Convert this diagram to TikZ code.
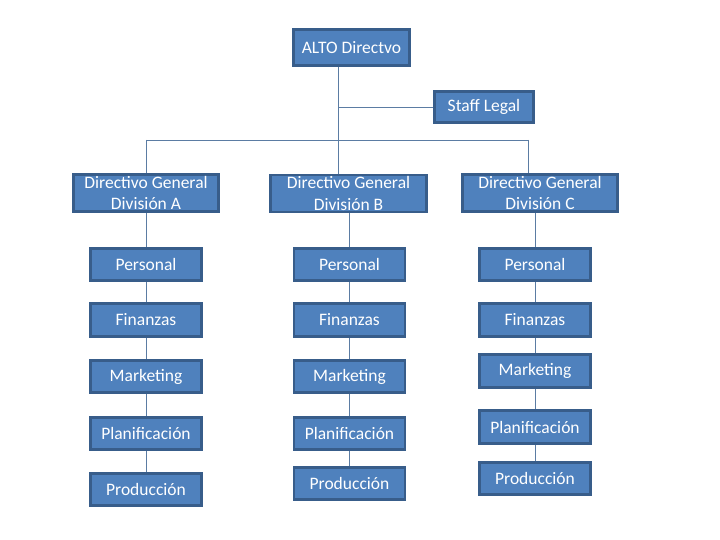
\documentclass[tikz,border=0pt]{standalone}
\usepackage{fontspec}
\setmainfont{Carlito}
\definecolor{boxfill}{HTML}{4F81BD}
\definecolor{boxborder}{HTML}{385D8A}
\definecolor{linkcol}{HTML}{5B7CA3}
\begin{document}
\begin{tikzpicture}[x=1pt,y=-1pt,
  orgbox/.style={draw=boxborder,line width=2.8pt,fill=boxfill,text=white,
    inner sep=0pt,align=center,font=\fontsize{17.5}{21.5}\selectfont},
  subbox/.style={orgbox,minimum width=111pt,minimum height=32.5pt},
  divbox/.style={orgbox,minimum height=37pt},
  link/.style={draw=linkcol,line width=0.9pt}]
\useasboundingbox (0,0) rectangle (720,540);
\fill[white] (0,0) rectangle (720,540);
% top
\node[orgbox,minimum width=116pt,minimum height=36pt] (alto) at (351.5,47.5) {ALTO Directvo};
\node[orgbox,minimum width=99pt,minimum height=31pt] (staff) at (484,107) {Staff Legal};
% divisions
\node[divbox,minimum width=145pt] (dA) at (146,193) {Directivo General\\División A};
\node[divbox,minimum width=156pt] (dB) at (348.5,193.5) {Directivo General\\División B};
\node[divbox,minimum width=155pt] (dC) at (540,193) {Directivo General\\División C};
% column A
\node[subbox] (pA) at (146,264.5) {Personal};
\node[subbox] (fA) at (146,320) {Finanzas};
\node[subbox] (mA) at (146,376.5) {Marketing};
\node[subbox] (lA) at (146,433.5) {Planificación};
\node[subbox] (rA) at (146,489.5) {Producción};
% column B
\node[subbox] (pB) at (349.5,264.5) {Personal};
\node[subbox] (fB) at (349.5,320) {Finanzas};
\node[subbox] (mB) at (349.5,376.5) {Marketing};
\node[subbox] (lB) at (349.5,433.5) {Planificación};
\node[subbox] (rB) at (349.5,483.5) {Producción};
% column C
\node[subbox] (pC) at (535,264.5) {Personal};
\node[subbox] (fC) at (535,320) {Finanzas};
\node[subbox] (mC) at (535,371) {Marketing};
\node[subbox] (lC) at (535,427) {Planificación};
\node[subbox] (rC) at (535,478.5) {Producción};
% junctions
\coordinate (j) at (338,140);
\coordinate (jc) at (528,140);
\coordinate (ja) at (146,140);
% connectors
\draw[link] (alto.south -| j) -- (j);
\draw[link] (j |- staff.west) -- (staff.west);
\draw[link] (ja) -- (jc);
\draw[link] (ja) -- (dA.north);
\draw[link] (j) -- (j |- dB.north);
\draw[link] (jc) -- (jc |- dC.north);
\foreach \c in {A,B,C}{
  \draw[link] (d\c.south -| p\c.north) -- (p\c.north);
  \draw[link] (p\c.south) -- (f\c.north);
  \draw[link] (f\c.south) -- (m\c.north);
  \draw[link] (m\c.south) -- (l\c.north);
  \draw[link] (l\c.south) -- (r\c.north);
}
\end{tikzpicture}
\end{document}
